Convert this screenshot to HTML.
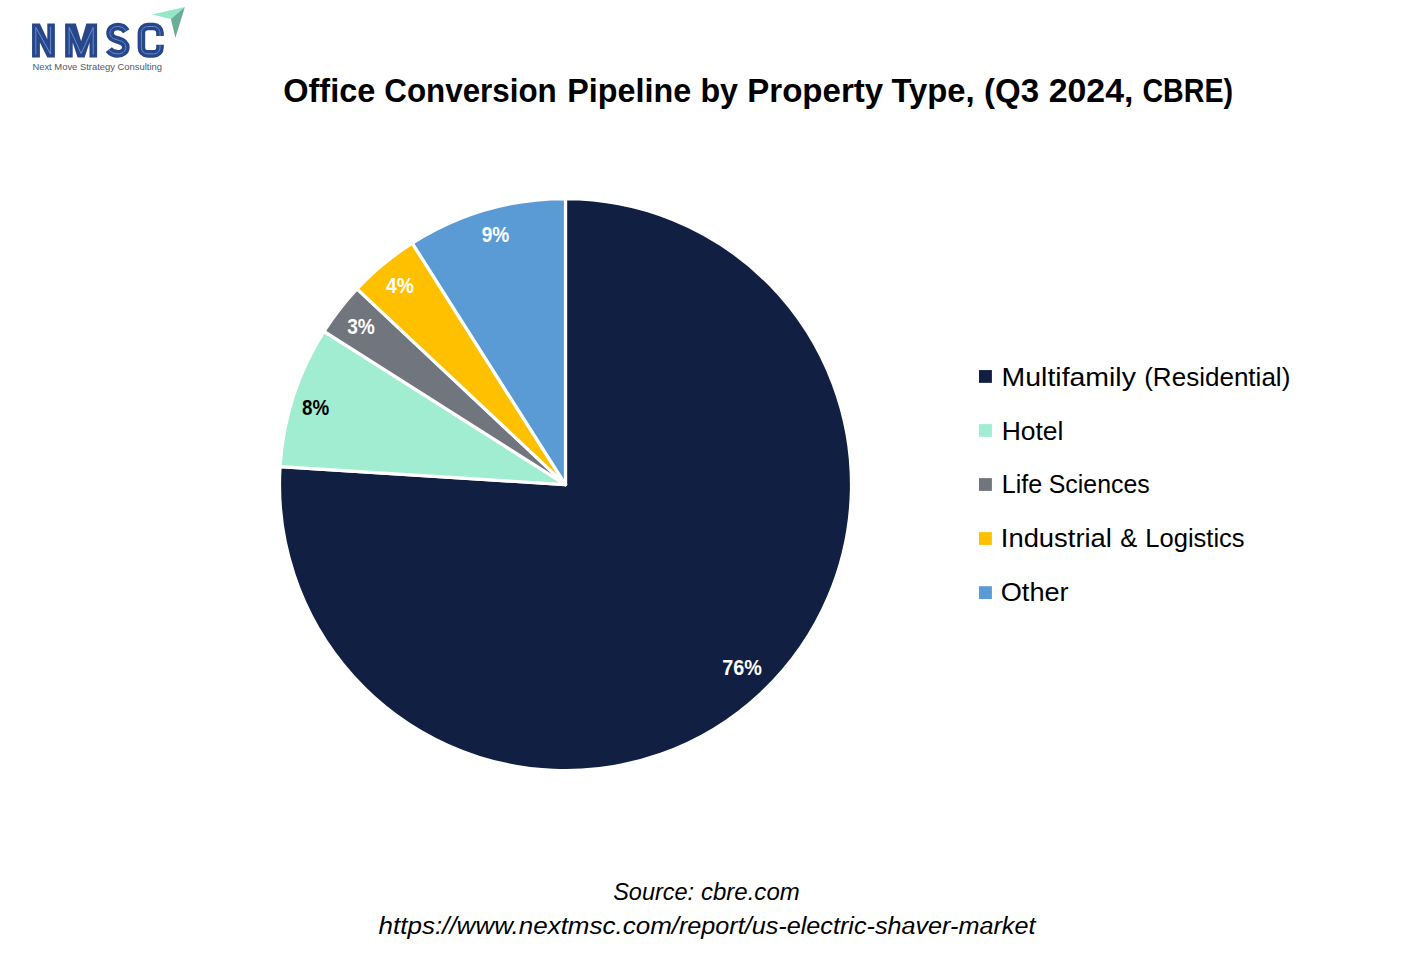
<!DOCTYPE html>
<html>
<head>
<meta charset="utf-8">
<style>
html,body{margin:0;padding:0;background:#fff;}
body{width:1426px;height:973px;overflow:hidden;}
svg{display:block;}
text{font-family:"Liberation Sans", sans-serif;}
</style>
</head>
<body>
<svg width="1426" height="973" viewBox="0 0 1426 973">
<rect width="1426" height="973" fill="#fff"/>
<g id="logo">
<g fill="#27478a">
<polygon points="32.05,23.5 39.9,23.5 47.3,39.3 47.3,23.5 54.9,23.5 54.9,57.6 47.3,57.6 39.9,42.5 39.9,57.6 32.05,57.6"/>
<polygon points="65.1,23.5 75.8,23.5 81.1,41.2 86.4,23.5 97.1,23.5 97.1,57.6 89.5,57.6 89.5,42.5 84.6,57.6 77.6,57.6 72.7,42.5 72.7,57.6 65.1,57.6"/>
</g>
<g fill="none" stroke="#27478a" stroke-width="7.6" stroke-linecap="butt">
<path d="M126.3,31.2 C124.4,28.2 121.4,26.5 117.8,26.5 C113,26.5 110,29.3 110,33.2 C110,37.4 113.3,38.8 117.8,40 C122.6,41.3 125.8,42.9 125.8,47.3 C125.8,51.3 122.4,53.9 117.8,53.9 C113.9,53.9 110.9,52.4 108.8,49.6"/>
<path d="M160,35.9 L160,33 C160,29.2 157.3,26.5 153.5,26.5 L147.9,26.5 C144.1,26.5 141.4,29.2 141.4,33 L141.4,47.4 C141.4,51.2 144.1,53.9 147.9,53.9 L153.5,53.9 C157.3,53.9 160,51.2 160,47.4 L160,44.8"/>
</g>
<g fill="none" stroke="#6f93d3" stroke-width="0.9" stroke-linejoin="round">
<polyline points="35.8,54.6 35.8,27.4 50.6,54.1 50.6,26.8"/>
<polyline points="69.2,54.6 69.2,27.4 81.1,53.5 93.2,27.4 93.2,54.6"/>
<path d="M126.3,31.2 C124.4,28.2 121.4,26.5 117.8,26.5 C113,26.5 110,29.3 110,33.2 C110,37.4 113.3,38.8 117.8,40 C122.6,41.3 125.8,42.9 125.8,47.3 C125.8,51.3 122.4,53.9 117.8,53.9 C113.9,53.9 110.9,52.4 108.8,49.6"/>
<path d="M160,35.9 L160,33 C160,29.2 157.3,26.5 153.5,26.5 L147.9,26.5 C144.1,26.5 141.4,29.2 141.4,33 L141.4,47.4 C141.4,51.2 144.1,53.9 147.9,53.9 L153.5,53.9 C157.3,53.9 160,51.2 160,47.4 L160,44.8"/>
</g>
<polygon points="152.1,14.5 184.9,6.9 170.9,19.1" fill="#93e8c8"/>
<polygon points="170.9,19.1 184.9,6.9 175.4,37.8" fill="#6cae95"/>
<text x="32.4" y="69.8" font-size="8.6" fill="#50586a" textLength="129.6" lengthAdjust="spacingAndGlyphs">Next Move Strategy Consulting</text>
</g>

<g stroke="#fff" stroke-width="3.2" stroke-linejoin="round">
<path d="M565.5,484.6 L565.50,198.60 A286,286 0 1 1 280.06,466.64 Z" fill="#101f42"/>
<path d="M565.5,484.6 L280.06,466.64 A286,286 0 0 1 324.02,331.35 Z" fill="#a1edd1"/>
<path d="M565.5,484.6 L324.02,331.35 A286,286 0 0 1 357.01,288.82 Z" fill="#70757e"/>
<path d="M565.5,484.6 L357.01,288.82 A286,286 0 0 1 412.25,243.12 Z" fill="#ffc000"/>
<path d="M565.5,484.6 L412.25,243.12 A286,286 0 0 1 565.50,198.60 Z" fill="#5b9bd5"/>
</g>
<rect x="979" y="370.06" width="12.9" height="12.8" fill="#101f42"/>
<rect x="979" y="424.1" width="12.9" height="12.8" fill="#a1edd1"/>
<rect x="979" y="478.1" width="12.9" height="12.8" fill="#70757e"/>
<rect x="979" y="532.1" width="12.9" height="12.8" fill="#ffc000"/>
<rect x="979" y="586.2" width="12.9" height="12.8" fill="#5b9bd5"/>

<text x="283.23" y="101.7" font-size="33.6" font-weight="bold" fill="#000" textLength="92.13" lengthAdjust="spacingAndGlyphs">Office</text>
<text x="384.27" y="101.7" font-size="33.6" font-weight="bold" fill="#000" textLength="172.48" lengthAdjust="spacingAndGlyphs">Conversion</text>
<text x="567.26" y="101.7" font-size="33.6" font-weight="bold" fill="#000" textLength="123.88" lengthAdjust="spacingAndGlyphs">Pipeline</text>
<text x="700.4" y="101.7" font-size="33.6" font-weight="bold" fill="#000" textLength="37.58" lengthAdjust="spacingAndGlyphs">by</text>
<text x="747.23" y="101.7" font-size="33.6" font-weight="bold" fill="#000" textLength="135.96" lengthAdjust="spacingAndGlyphs">Property</text>
<text x="891.5" y="101.7" font-size="33.6" font-weight="bold" fill="#000" textLength="83.19" lengthAdjust="spacingAndGlyphs">Type,</text>
<text x="984.12" y="101.7" font-size="33.6" font-weight="bold" fill="#000" textLength="55.05" lengthAdjust="spacingAndGlyphs">(Q3</text>
<text x="1048.72" y="101.7" font-size="33.6" font-weight="bold" fill="#000" textLength="84.66" lengthAdjust="spacingAndGlyphs">2024,</text>
<text x="1142.45" y="101.7" font-size="33.6" font-weight="bold" fill="#000" textLength="90.66" lengthAdjust="spacingAndGlyphs">CBRE)</text>
<text x="1001.6" y="385.8" font-size="25.9" fill="#000" textLength="134.32" lengthAdjust="spacingAndGlyphs">Multifamily</text>
<text x="1144.19" y="385.8" font-size="25.9" fill="#000" textLength="146.14" lengthAdjust="spacingAndGlyphs">(Residential)</text>
<text x="1001.68" y="439.8" font-size="25.9" fill="#000" textLength="61.79" lengthAdjust="spacingAndGlyphs">Hotel</text>
<text x="1001.73" y="493.0" font-size="25.9" fill="#000" textLength="40.5" lengthAdjust="spacingAndGlyphs">Life</text>
<text x="1048.74" y="493.0" font-size="25.9" fill="#000" textLength="100.99" lengthAdjust="spacingAndGlyphs">Sciences</text>
<text x="1000.81" y="546.8" font-size="25.9" fill="#000" textLength="111.11" lengthAdjust="spacingAndGlyphs">Industrial</text>
<text x="1120.22" y="546.8" font-size="25.9" fill="#000" textLength="17.08" lengthAdjust="spacingAndGlyphs">&amp;</text>
<text x="1145.31" y="546.8" font-size="25.9" fill="#000" textLength="99.31" lengthAdjust="spacingAndGlyphs">Logistics</text>
<text x="1000.75" y="600.5" font-size="25.9" fill="#000" textLength="67.9" lengthAdjust="spacingAndGlyphs">Other</text>
<text x="613.17" y="900.4" font-size="23.5" font-style="italic" fill="#000" textLength="80.95" lengthAdjust="spacingAndGlyphs">Source:</text>
<text x="700.99" y="900.4" font-size="23.5" font-style="italic" fill="#000" textLength="98.76" lengthAdjust="spacingAndGlyphs">cbre.com</text>
<text x="378.6" y="933.9" font-size="23.5" font-style="italic" fill="#000" textLength="300.5" lengthAdjust="spacingAndGlyphs">https://www.nextmsc.com/</text>
<text x="678.9" y="933.9" font-size="23.5" font-style="italic" fill="#000" textLength="356.56" lengthAdjust="spacingAndGlyphs">report/us-electric-shaver-market</text>
<text x="481.67" y="241.7" font-size="21.2" font-weight="bold" fill="#fff" textLength="27.58" lengthAdjust="spacingAndGlyphs">9%</text>
<text x="386.0" y="292.9" font-size="21.2" font-weight="bold" fill="#fff" textLength="27.75" lengthAdjust="spacingAndGlyphs">4%</text>
<text x="347.25" y="333.6" font-size="21.2" font-weight="bold" fill="#fff" textLength="27.6" lengthAdjust="spacingAndGlyphs">3%</text>
<text x="302.0" y="414.6" font-size="21.2" font-weight="bold" fill="#000" textLength="27.15" lengthAdjust="spacingAndGlyphs">8%</text>
<text x="722.25" y="674.9" font-size="21.2" font-weight="bold" fill="#fff" textLength="39.62" lengthAdjust="spacingAndGlyphs">76%</text>
</svg>
</body>
</html>
